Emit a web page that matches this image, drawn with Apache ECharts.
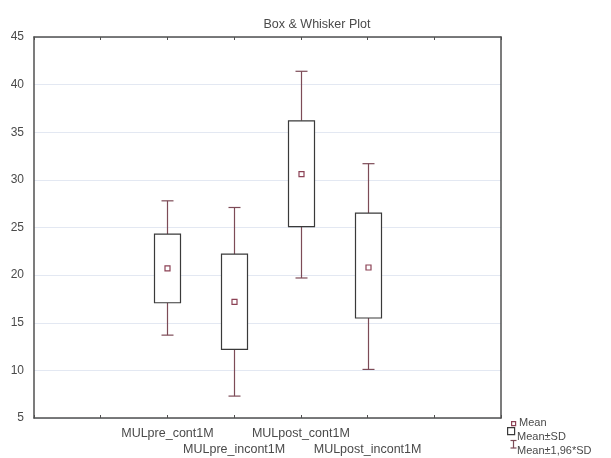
<!DOCTYPE html>
<html>
<head>
<meta charset="utf-8">
<script src="https://cdn.jsdelivr.net/npm/echarts@6/dist/echarts.min.js"></script>
<style>html,body{margin:0;padding:0;background:#fff}#c{width:611px;height:458px}</style>
</head>
<body>
<div id="c"></div>
<script>
// ---- data ----
var categories = ['MULpre_cont1M', 'MULpre_incont1M', 'MULpost_cont1M', 'MULpost_incont1M'];
var axisSlots = ['', ''].concat(categories).concat(['', '']);
var means    = [20.7, 17.2, 30.6, 20.8];
var sdLow    = [17.1, 12.2, 25.1, 15.5];
var sdHigh   = [24.3, 22.2, 36.2, 26.5];
var ci96Low  = [13.7, 7.3, 19.7, 10.1];
var ci96High = [27.8, 27.1, 41.4, 31.7];
var yTicks = [5, 10, 15, 20, 25, 30, 35, 40, 45];
var legendLabels = ['Mean', 'Mean±SD', 'Mean±1,96*SD'];

var seriesData = categories.map(function (c, i) {
  return [c, ci96Low[i], sdLow[i], means[i], sdHigh[i], ci96High[i]];
});

var whiskerColor = '#7d4b57';
var boxColor = '#3a3a3a';
var meanColor = '#8c4255';
var frameColor = '#505050';
var textColor = '#4a4a4a';
var font = 'Liberation Sans, Arial, sans-serif';

function renderItem(params, api) {
  var x = api.value(0);
  var pLo = api.coord([x, api.value(1)]);
  var pSl = api.coord([x, api.value(2)]);
  var pM = api.coord([x, api.value(3)]);
  var pSh = api.coord([x, api.value(4)]);
  var pHi = api.coord([x, api.value(5)]);
  var cx = Math.round(pM[0]) + 0.5;
  var bw = 26, cw = 12, ms = 5;
  var ls = { stroke: whiskerColor, lineWidth: 1.2 };
  return {
    type: 'group',
    children: [
      { type: 'line', shape: { x1: cx, y1: pHi[1], x2: cx, y2: pSh[1] }, style: ls },
      { type: 'line', shape: { x1: cx, y1: pSl[1], x2: cx, y2: pLo[1] }, style: ls },
      { type: 'line', shape: { x1: cx - cw / 2, y1: pHi[1], x2: cx + cw / 2, y2: pHi[1] }, style: ls },
      { type: 'line', shape: { x1: cx - cw / 2, y1: pLo[1], x2: cx + cw / 2, y2: pLo[1] }, style: ls },
      { type: 'rect', shape: { x: cx - bw / 2, y: pSh[1], width: bw, height: pSl[1] - pSh[1] },
        style: { fill: '#fff', stroke: boxColor, lineWidth: 1.2 } },
      { type: 'rect', shape: { x: cx - ms / 2, y: pM[1] - ms / 2, width: ms, height: ms },
        style: { fill: '#fff', stroke: meanColor, lineWidth: 1.2 } }
    ]
  };
}

var chart = echarts.init(document.getElementById('c'), null, { renderer: 'canvas' });
var option = {
  animation: false,
  backgroundColor: '#fff',
  title: {
    text: 'Box & Whisker Plot',
    left: 312, top: 13, textAlign: 'center',
    textStyle: { fontFamily: font, fontSize: 12.5, fontWeight: 'normal', color: textColor }
  },
  grid: { left: 34, right: 110, top: 37, bottom: 36 },
  xAxis: [{
    type: 'category', data: axisSlots, boundaryGap: false, position: 'bottom',
    axisLine: { lineStyle: { color: frameColor, width: 1.5 } },
    axisTick: { inside: true, length: 3, interval: 0, lineStyle: { color: frameColor } },
    axisLabel: {
      interval: 0, margin: 8, fontFamily: font, fontSize: 12.5, color: textColor, lineHeight: 16,
      formatter: function (v, idx) {
        if (!v) return '';
        var k = categories.indexOf(v);
        return (k % 2 === 1) ? '\n' + v : v;
      }
    },
    splitLine: { show: false }
  }, {
    type: 'category', data: axisSlots, boundaryGap: false, position: 'top',
    axisLine: { lineStyle: { color: frameColor, width: 1.5 } },
    axisTick: { inside: true, length: 3, interval: 0, lineStyle: { color: frameColor } },
    axisLabel: { show: false }, splitLine: { show: false }
  }],
  yAxis: [{
    type: 'value', min: yTicks[0], max: yTicks[yTicks.length - 1], interval: 5, position: 'left',
    axisLine: { show: true, lineStyle: { color: frameColor, width: 1.5 } },
    axisTick: { show: false },
    axisLabel: { fontFamily: font, fontSize: 12, color: textColor, margin: 10 },
    splitLine: { show: true, lineStyle: { color: '#e3e8f2', width: 1 } }
  }, {
    type: 'value', min: yTicks[0], max: yTicks[yTicks.length - 1], interval: 5, position: 'right',
    axisLine: { show: true, lineStyle: { color: frameColor, width: 1.5 } },
    axisTick: { show: false }, axisLabel: { show: false }, splitLine: { show: false }
  }],
  series: [{
    type: 'custom', renderItem: renderItem, data: seriesData,
    encode: { x: 0, y: [1, 2, 3, 4, 5] }, z: 5
  }],
  graphic: [
    { type: 'rect', left: 511, top: 421, shape: { width: 4, height: 4 },
      style: { fill: '#fff', stroke: meanColor, lineWidth: 1.2 } },
    { type: 'text', left: 519, top: 417, style: { text: legendLabels[0], font: '11px ' + font, fill: textColor } },
    { type: 'rect', left: 507, top: 427, shape: { width: 7, height: 7 },
      style: { fill: '#fff', stroke: boxColor, lineWidth: 1.2 } },
    { type: 'text', left: 517, top: 431, style: { text: legendLabels[1], font: '11px ' + font, fill: textColor } },
    { type: 'group', left: 508, top: 438, children: [
      { type: 'line', shape: { x1: 0, y1: 0.5, x2: 6, y2: 0.5 }, style: { stroke: whiskerColor, lineWidth: 1.2 } },
      { type: 'line', shape: { x1: 3, y1: 0.5, x2: 3, y2: 8 }, style: { stroke: whiskerColor, lineWidth: 1.2 } },
      { type: 'line', shape: { x1: 0, y1: 8, x2: 6, y2: 8 }, style: { stroke: whiskerColor, lineWidth: 1.2 } }
    ] },
    { type: 'text', left: 517, top: 445, style: { text: legendLabels[2], font: '11px ' + font, fill: textColor } }
  ]
};
chart.setOption(option);
</script>
</body>
</html>
